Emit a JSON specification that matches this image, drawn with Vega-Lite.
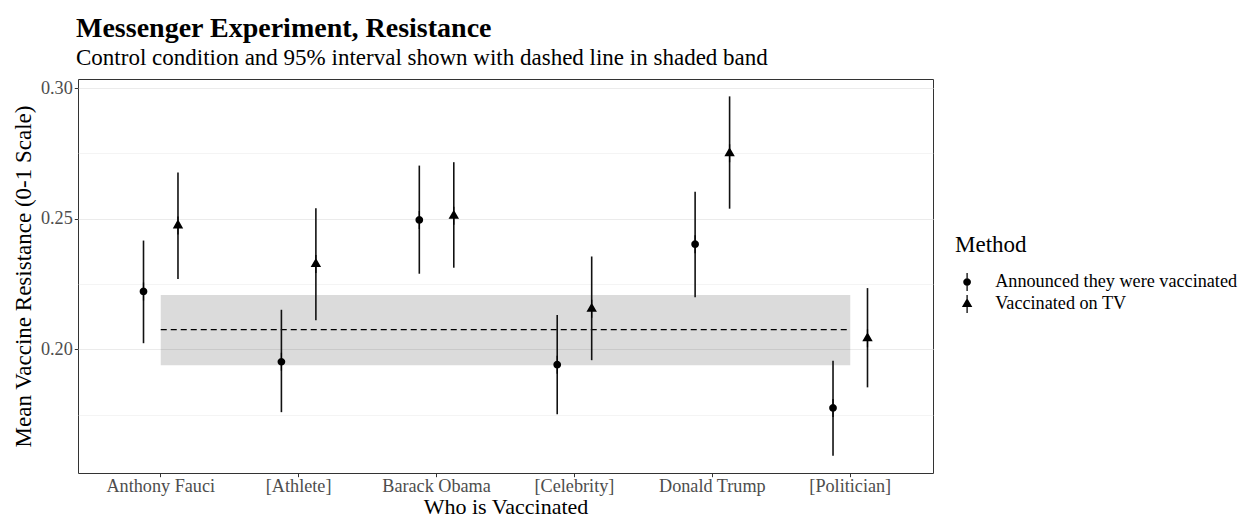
{
  "$schema": "https://vega.github.io/schema/vega-lite/v6.json",
  "width": 855,
  "height": 394,
  "autosize": {"type": "none"},
  "padding": {"left": 78, "top": 79, "right": 308, "bottom": 45},
  "background": "white",
  "title": {
    "text": "Messenger Experiment, Resistance",
    "subtitle": "Control condition and 95% interval shown with dashed line in shaded band",
    "anchor": "start",
    "frame": "group",
    "font": "Liberation Serif",
    "fontSize": 28,
    "fontWeight": "bold",
    "color": "#000000",
    "subtitleFont": "Liberation Serif",
    "subtitleFontSize": 23,
    "subtitleColor": "#000000",
    "subtitlePadding": 4.5,
    "offset": 8,
    "dx": -2
  },
  "config": {
    "font": "Liberation Serif",
    "view": {"stroke": "#333333", "strokeWidth": 1},
    "axis": {
      "domain": false,
      "labelFont": "Liberation Serif",
      "labelFontSize": 18.2,
      "labelColor": "#4D4D4D",
      "tickColor": "#333333",
      "tickSize": 3.7,
      "tickWidth": 1,
      "labelPadding": 2,
      "titleFont": "Liberation Serif",
      "titleFontSize": 23,
      "titleFontWeight": "normal",
      "titleColor": "#000000",
      "gridColor": "#EBEBEB",
      "gridWidth": 1.1
    },
    "legend": {
      "titleFont": "Liberation Serif",
      "titleFontSize": 23,
      "titleFontWeight": "normal",
      "titleColor": "#000000",
      "labelFont": "Liberation Serif",
      "labelFontSize": 18.2,
      "labelColor": "#000000",
      "labelLimit": 0
    }
  },
  "datasets": {
    "estimates": [
      {"who": "Anthony Fauci", "method": "Announced they were vaccinated", "mean": 0.2221, "lo": 0.2023, "hi": 0.2416},
      {"who": "Anthony Fauci", "method": "Vaccinated on TV", "mean": 0.2474, "lo": 0.2269, "hi": 0.2677},
      {"who": "[Athlete]", "method": "Announced they were vaccinated", "mean": 0.1952, "lo": 0.1759, "hi": 0.2151},
      {"who": "[Athlete]", "method": "Vaccinated on TV", "mean": 0.2326, "lo": 0.2111, "hi": 0.254},
      {"who": "Barack Obama", "method": "Announced they were vaccinated", "mean": 0.2495, "lo": 0.2289, "hi": 0.2703},
      {"who": "Barack Obama", "method": "Vaccinated on TV", "mean": 0.2511, "lo": 0.2312, "hi": 0.2716},
      {"who": "[Celebrity]", "method": "Announced they were vaccinated", "mean": 0.1941, "lo": 0.1751, "hi": 0.2131},
      {"who": "[Celebrity]", "method": "Vaccinated on TV", "mean": 0.2155, "lo": 0.1958, "hi": 0.2355},
      {"who": "Donald Trump", "method": "Announced they were vaccinated", "mean": 0.2402, "lo": 0.2199, "hi": 0.2603},
      {"who": "Donald Trump", "method": "Vaccinated on TV", "mean": 0.275, "lo": 0.2538, "hi": 0.2968},
      {"who": "[Politician]", "method": "Announced they were vaccinated", "mean": 0.1775, "lo": 0.1592, "hi": 0.1956},
      {"who": "[Politician]", "method": "Vaccinated on TV", "mean": 0.2042, "lo": 0.1854, "hi": 0.2234}
    ],
    "control": [
      {"from": "Anthony Fauci", "to": "[Politician]", "mean": 0.2075, "lo": 0.1939, "hi": 0.2208}
    ]
  },
  "layer": [
    {
      "data": {"name": "control"},
      "mark": {"type": "rect", "fill": "#000000", "fillOpacity": 0.14, "stroke": null},
      "encoding": {
        "x": {
          "field": "from",
          "type": "nominal",
          "bandPosition": 0.5,
          "title": "Who is Vaccinated",
          "scale": {
            "type": "band",
            "domain": ["Anthony Fauci", "[Athlete]", "Barack Obama", "[Celebrity]", "Donald Trump", "[Politician]"],
            "paddingInner": 0,
            "paddingOuter": 0.1
          },
          "axis": {"labelAngle": 0, "bandPosition": 0.5, "labelPadding": 0.5, "titlePadding": 2, "titleFontSize": 22}
        },
        "x2": {"field": "to", "bandPosition": 0.5},
        "y": {
          "field": "lo",
          "type": "quantitative",
          "title": "Mean Vaccine Resistance (0-1 Scale)",
          "scale": {"domain": [0.15261, 0.30345], "zero": false, "nice": false},
          "axis": {
            "values": [0.175, 0.2, 0.225, 0.25, 0.275, 0.3],
            "labelExpr": "round(datum.value * 1000) % 50 == 0 ? format(datum.value, '.2f') : ''",
            "gridWidth": {"condition": {"test": "round(datum.value * 1000) % 50 != 0", "value": 0.55}, "value": 1.1},
            "tickOpacity": {"condition": {"test": "round(datum.value * 1000) % 50 != 0", "value": 0}, "value": 1},
            "titlePadding": 5
          }
        },
        "y2": {"field": "hi"}
      }
    },
    {
      "data": {"name": "control"},
      "mark": {"type": "rule", "color": "#000000", "strokeWidth": 1.3, "strokeDash": [6, 4]},
      "encoding": {
        "x": {"field": "from", "type": "nominal", "bandPosition": 0.5, "title": "Who is Vaccinated"},
        "x2": {"field": "to", "bandPosition": 0.5},
        "y": {"field": "mean", "type": "quantitative", "title": "Mean Vaccine Resistance (0-1 Scale)"}
      }
    },
    {
      "data": {"name": "estimates"},
      "mark": {"type": "rule", "color": "#111111", "strokeWidth": 1.6},
      "encoding": {
        "x": {"field": "who", "type": "nominal", "title": "Who is Vaccinated"},
        "xOffset": {
          "field": "method",
          "type": "nominal",
          "scale": {"domain": ["Announced they were vaccinated", "Vaccinated on TV"], "paddingInner": 0, "paddingOuter": 1.5}
        },
        "y": {"field": "lo", "type": "quantitative", "title": "Mean Vaccine Resistance (0-1 Scale)"},
        "y2": {"field": "hi"}
      }
    },
    {
      "data": {"name": "estimates"},
      "mark": {"type": "point", "filled": true, "fill": "#000000", "fillOpacity": 1, "strokeWidth": 0, "opacity": 1, "size": 324},
      "encoding": {
        "x": {"field": "who", "type": "nominal", "title": "Who is Vaccinated"},
        "xOffset": {"field": "method", "type": "nominal"},
        "y": {"field": "mean", "type": "quantitative", "title": "Mean Vaccine Resistance (0-1 Scale)"},
        "shape": {
          "field": "method",
          "type": "nominal",
          "title": "Method",
          "scale": {
            "domain": ["Announced they were vaccinated", "Vaccinated on TV"],
            "range": [
              "M-0.07,-1L0.07,-1L0.07,-0.3L-0.07,-0.3Z M-0.07,0.3L0.07,0.3L0.07,1L-0.07,1Z M-0.43,0A0.43,0.43,0,1,1,0.43,0A0.43,0.43,0,1,1,-0.43,0Z",
              "M-0.07,-1L0.07,-1L0.07,-0.55L-0.07,-0.55Z M-0.07,0.3L0.07,0.3L0.07,1L-0.07,1Z M0,-0.67L0.58,0.335L-0.58,0.335Z"
            ]
          },
          "legend": {
            "orient": "none",
            "legendX": 877,
            "legendY": 155,
            "symbolSize": 324,
            "symbolFillColor": "#000000",
            "symbolStrokeWidth": 0,
            "symbolOpacity": 1,
            "symbolOffset": 3,
            "labelOffset": 19,
            "rowPadding": 2,
            "titlePadding": 16,
            "encode": {
              "symbols": {
                "update": {
                  "fill": {"value": "#000000"},
                  "fillOpacity": {"value": 1},
                  "strokeWidth": {"value": 0},
                  "size": {"value": 324},
                  "opacity": {"value": 1}
                }
              }
            }
          }
        }
      }
    }
  ]
}
